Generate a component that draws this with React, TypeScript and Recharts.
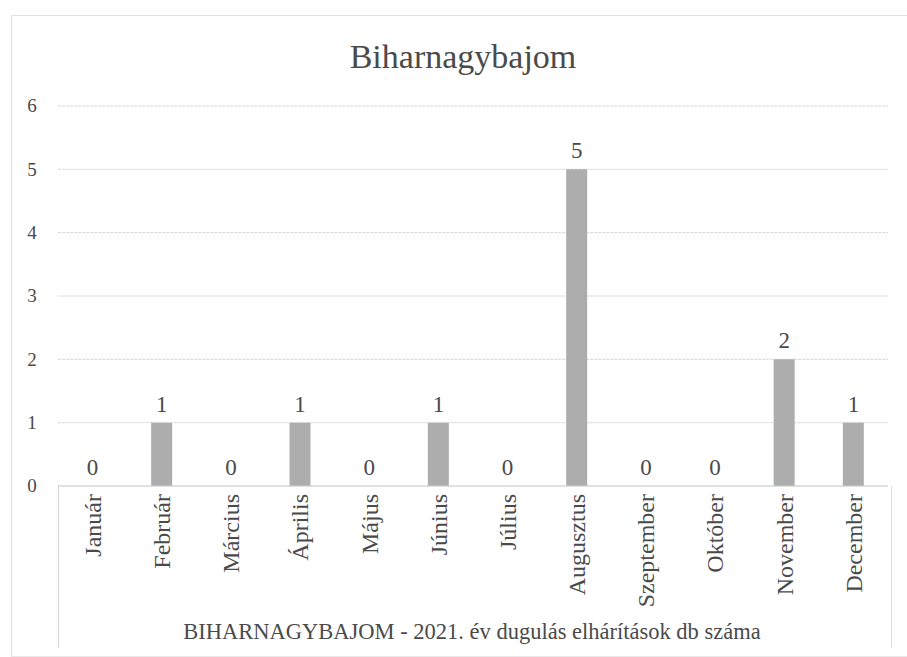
import { Bar, CartesianGrid, ComposedChart, LabelList, Line, XAxis, YAxis } from "recharts";

const months = [
  "Január",
  "Február",
  "Március",
  "Április",
  "Május",
  "Június",
  "Július",
  "Augusztus",
  "Szeptember",
  "Október",
  "November",
  "December",
];
const counts = [0, 1, 0, 1, 0, 1, 0, 5, 0, 0, 2, 1];
const yTicks = [0, 1, 2, 3, 4, 5, 6];

const data = months.map((month, i) => ({ month, count: counts[i] }));

const FONT = '"Liberation Serif", "Times New Roman", serif';
const TEXT = "#4a4a4a";

function MonthTick(props: any) {
  const { x, y, payload } = props;
  return (
    <text
      x={x}
      y={y}
      transform={`rotate(-90, ${x}, ${y})`}
      textAnchor="end"
      dy="0.35em"
      style={{ fontFamily: FONT }}
      fontSize={24}
      fill={TEXT}
    >
      {payload.value}
    </text>
  );
}

function ValueTick(props: any) {
  const { y, payload } = props;
  return (
    <text x={32} y={y} dy="0.34em" textAnchor="middle" style={{ fontFamily: FONT }} fontSize={19} fill={TEXT}>
      {payload.value}
    </text>
  );
}

function BarValue(props: any) {
  const { x, y, value } = props;
  return (
    <text x={x} y={y - 11} textAnchor="middle" style={{ fontFamily: FONT }} fontSize={23} fill={TEXT}>
      {value}
    </text>
  );
}

export default function App() {
  return (
    <div
      style={{
        position: "absolute",
        left: 0,
        top: 0,
        width: 907,
        height: 657,
        background: "#fff",
        fontFamily: FONT,
      }}
    >
      {/* outer frame */}
      <div style={{ position: "absolute", left: 11, top: 15, width: 896, height: 640, borderLeft: "1px solid #e2e2e2", borderTop: "1px solid #e2e2e2", borderBottom: "1px solid #e8e8e8" }} />
      {/* category axis box */}
      <div style={{ position: "absolute", left: 58, top: 486, width: 832, height: 162, borderLeft: "1px solid #d4d4d4", borderRight: "1px solid #e0e0e0" }} />
      <div
        style={{
          position: "absolute",
          left: 0,
          width: 926,
          top: 38,
          textAlign: "center",
          fontSize: 34,
          color: TEXT,
        }}
      >
        Biharnagybajom
      </div>
      <ComposedChart
        width={907}
        height={657}
        data={data}
        margin={{ top: 106, right: 19, bottom: 0, left: 0 }}
        barSize={21}
      >
        <CartesianGrid vertical={false} stroke="#d6d6d6" strokeDasharray="3 1" />
        <XAxis
          dataKey="month"
          interval={0}
          height={171}
          tickLine={false}
          axisLine={{ stroke: "#d0d0d0" }}
          tick={<MonthTick />}
        />
        <YAxis
          domain={[0, 6]}
          ticks={yTicks}
          width={58}
          tickLine={false}
          axisLine={false}
          tick={<ValueTick />}
        />
        <Bar dataKey="count" fill="#adadad" isAnimationActive={false} />
        <Line
          dataKey="count"
          stroke="none"
          dot={false}
          activeDot={false}
          legendType="none"
          isAnimationActive={false}
        >
          <LabelList dataKey="count" content={<BarValue />} />
        </Line>
      </ComposedChart>
      <div
        style={{
          position: "absolute",
          left: 0,
          width: 944,
          top: 619,
          textAlign: "center",
          fontSize: 22.5,
          color: TEXT,
        }}
      >
        BIHARNAGYBAJOM - 2021. év dugulás elhárítások db száma
      </div>
    </div>
  );
}
